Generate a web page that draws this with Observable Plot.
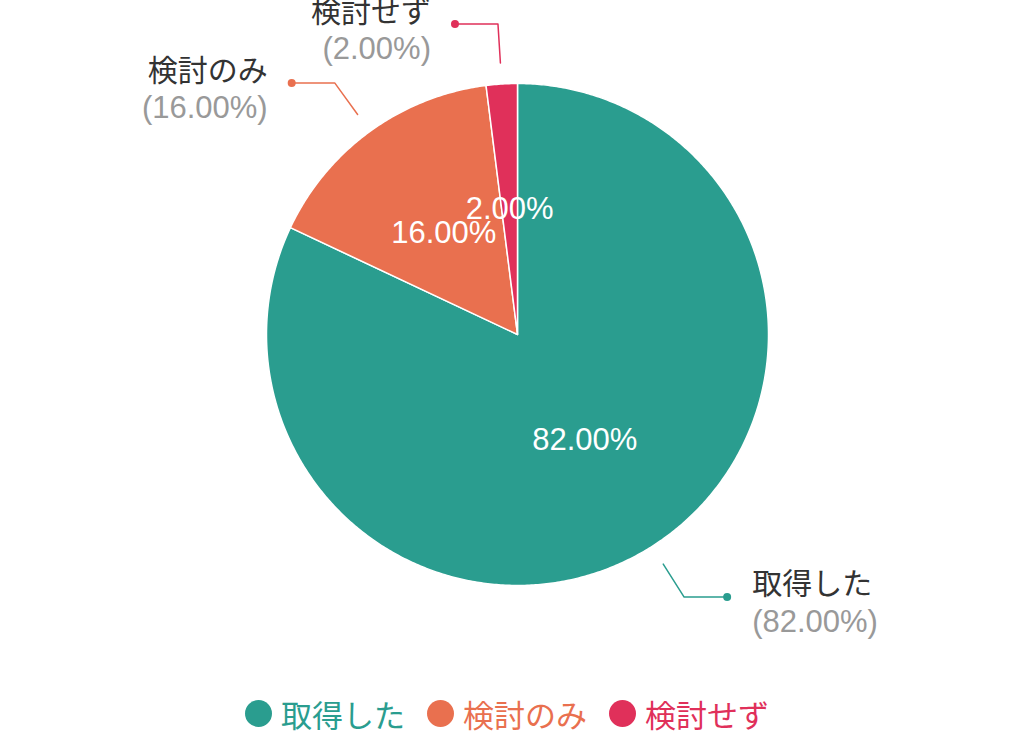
<!DOCTYPE html>
<html>
<head>
<meta charset="utf-8">
<script src="https://cdn.jsdelivr.net/npm/d3@7"></script>
<script src="https://cdn.jsdelivr.net/npm/@observablehq/plot@0.6"></script>
<style>
  html, body { margin: 0; padding: 0; background: #fff; }
  body { width: 1034px; height: 736px; overflow: hidden; font-family: "Liberation Sans", "Noto Sans CJK JP", sans-serif; }
  #legend { display: flex; justify-content: center; align-items: center; height: 46px; margin-left: -20px; font-size: 31px; font-family: "Liberation Sans", "Noto Sans CJK JP", sans-serif; }
  .item { display: flex; align-items: center; margin: 0 11px; }
  .sw { width: 27px; height: 27px; border-radius: 50%; margin-right: 9px; }
</style>
</head>
<body>
<div id="chart"></div>
<div id="legend"></div>
<script>
const categories = ["取得した", "検討のみ", "検討せず"];
const values = [82, 16, 2];
const colors = ["#2a9d8f", "#e9704f", "#e0305a"];

const W = 1034, H = 690, R = 251, CX = 517, CY = 334;
const total = d3.sum(values);

// geometry of slices (unit circle, angle clockwise from top)
const slices = [];
let acc = 0;
categories.forEach((c, i) => {
  const a0 = acc / total * 2 * Math.PI;
  acc += values[i];
  const a1 = acc / total * 2 * Math.PI;
  slices.push({cat: c, value: values[i], a0, a1, mid: (a0 + a1) / 2});
});

const polyPts = [];
slices.forEach(s => {
  polyPts.push({cat: s.cat, x: 0, y: 0});
  const n = Math.max(2, Math.ceil((s.a1 - s.a0) / (Math.PI / 360)));
  for (let k = 0; k <= n; k++) {
    const a = s.a0 + (s.a1 - s.a0) * k / n;
    polyPts.push({cat: s.cat, x: Math.sin(a), y: Math.cos(a)});
  }
});

const inner = slices.map(s => ({
  cat: s.cat, x: 0.5 * Math.sin(s.mid), y: 0.5 * Math.cos(s.mid),
  label: s.value.toFixed(2) + "%"
}));

const r1 = 272 / R, r2 = 311 / R, hl = 43 / R;
const leaderPts = [];
const ends = [];
slices.forEach(s => {
  const sx = Math.sin(s.mid), cy = Math.cos(s.mid);
  const side = sx >= 0 ? 1 : -1;
  const p2 = {x: r2 * sx, y: r2 * cy};
  leaderPts.push({cat: s.cat, x: r1 * sx, y: r1 * cy});
  leaderPts.push({cat: s.cat, x: p2.x, y: p2.y});
  leaderPts.push({cat: s.cat, x: p2.x + side * hl, y: p2.y});
  ends.push({cat: s.cat, x: p2.x + side * hl, y: p2.y, side,
    pct: "(" + s.value.toFixed(2) + "%)"});
});

const font = "Liberation Sans, Noto Sans CJK JP, sans-serif";
const color = {domain: categories, range: colors};

const plot = Plot.plot({
  width: W, height: H,
  margin: 0,
  x: {domain: [-CX / R, (W - CX) / R], axis: null},
  y: {domain: [(CY - H) / R, CY / R], axis: null},
  color,
  style: {fontFamily: font, background: "#fff"},
  marks: [
    Plot.line(polyPts, {x: "x", y: "y", z: "cat", fill: "cat", stroke: "#fff", strokeWidth: 1.5, curve: "linear-closed"}),
    Plot.text(inner, {x: "x", y: "y", text: "label", fill: "#fff", fontSize: 31}),
    Plot.line(leaderPts, {x: "x", y: "y", z: "cat", stroke: "cat", strokeWidth: 1.5}),
    Plot.dot(ends, {x: "x", y: "y", fill: "cat", r: 4}),
    Plot.text(ends.filter(d => d.side > 0), {x: "x", y: "y", text: "cat", dx: 25, dy: -13, textAnchor: "start", fill: "#333", fontSize: 30}),
    Plot.text(ends.filter(d => d.side > 0), {x: "x", y: "y", text: "pct", dx: 25, dy: 25, textAnchor: "start", fill: "#999", fontSize: 31}),
    Plot.text(ends.filter(d => d.side < 0), {x: "x", y: "y", text: "cat", dx: -24, dy: -12, textAnchor: "end", fill: "#333", fontSize: 30}),
    Plot.text(ends.filter(d => d.side < 0), {x: "x", y: "y", text: "pct", dx: -24, dy: 25, textAnchor: "end", fill: "#999", fontSize: 31})
  ]
});
document.getElementById("chart").appendChild(plot);

const leg = document.getElementById("legend");
categories.forEach((c, i) => {
  const it = document.createElement("div");
  it.className = "item";
  const sw = document.createElement("span");
  sw.className = "sw";
  sw.style.background = colors[i];
  const t = document.createElement("span");
  t.textContent = c;
  t.style.color = colors[i];
  it.appendChild(sw); it.appendChild(t);
  leg.appendChild(it);
});
</script>
</body>
</html>
